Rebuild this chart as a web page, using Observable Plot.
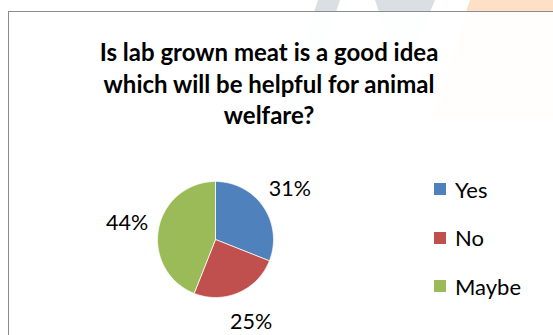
<!DOCTYPE html>
<html><head><meta charset="utf-8">
<script src="https://cdn.jsdelivr.net/npm/d3@7"></script>
<script src="https://cdn.jsdelivr.net/npm/@observablehq/plot@0.6"></script>
<style>
body{margin:0;width:553px;height:335px;overflow:hidden;background:#fff;font-family:Lato,"Open Sans",sans-serif;position:relative}
#wm{position:absolute;left:0;top:0}
#frame{position:absolute;left:8px;top:11px;width:600px;height:400px;border:1.5px solid #8c8c8c;box-sizing:border-box;background:rgba(255,255,255,0.95)}
#title{position:absolute;left:0;top:36px;width:538px;text-align:center;font-weight:bold;font-size:24px;line-height:31.5px;color:#000}
#chart{position:absolute;left:0;top:130px}
#legend{position:absolute;left:434px;top:165px}
.item{display:flex;align-items:center;height:48.5px}
.sw{width:12px;height:12px;margin-right:9px}
.lt{font-size:22px;color:#000}
</style></head>
<body>
<svg id="wm" width="553" height="335">
  <polygon points="318,0 340,0 300,120 278,120" fill="#d9dfe2"/>
  <polygon points="375,0 435,0 410,60 395,60" fill="#d9dfe2"/>
  <polygon points="470,0 553,0 553,120 430,120" fill="#fde0c6"/>
</svg>
<div id="frame"></div>
<div id="title">Is lab grown meat is a good idea<br>which will be helpful for animal<br>welfare?</div>
<div id="chart"></div>
<div id="legend"></div>
<script>
const answers = ["Yes", "No", "Maybe"];
const shares = [31, 25, 44];
const colors = ["#4F81BD", "#C0504D", "#9BBB59"];
const labels = ["31%", "25%", "44%"];

const total = d3.sum(shares);
const slices = [];
const polys = [];
let acc = 0;
answers.forEach((a, i) => {
  const a0 = acc / total * 2 * Math.PI;
  acc += shares[i];
  const a1 = acc / total * 2 * Math.PI;
  const n = Math.max(2, Math.ceil((a1 - a0) / (Math.PI / 180)));
  polys.push({answer: a, x: 0, y: 0});
  for (let k = 0; k <= n; k++) {
    const t = a0 + (a1 - a0) * k / n;
    polys.push({answer: a, x: Math.sin(t), y: Math.cos(t)});
  }
  polys.push({answer: a, x: 0, y: 0});
  const m = (a0 + a1) / 2;
  slices.push({answer: a, label: labels[i], x: 1.55 * Math.sin(m), y: 1.55 * Math.cos(m)});
});

const W = 553, H = 205;
const plot = Plot.plot({
  width: W, height: H,
  marginLeft: 157, marginRight: 280, marginTop: 51, marginBottom: 38,
  x: {domain: [-1, 1], axis: null},
  y: {domain: [-1, 1], axis: null},
  color: {domain: answers, range: colors},
  style: {fontFamily: "Lato, 'Open Sans', sans-serif", overflow: "visible", background: "transparent"},
  marks: [
    Plot.line(polys, {x: "x", y: "y", z: "answer", fill: "answer", stroke: "white", strokeWidth: 0.75, curve: "linear"}),
    Plot.text(slices, {x: "x", y: "y", text: "label", fontSize: 21.5, fill: "#000"})
  ]
});
document.getElementById("chart").appendChild(plot);

const color = plot.scale("color");
const leg = document.getElementById("legend");
answers.forEach((a, i) => {
  const it = document.createElement("div");
  it.className = "item";
  it.innerHTML = `<div class="sw" style="background:${colors[color.domain.indexOf(a)]}"></div><div class="lt">${a}</div>`;
  leg.appendChild(it);
});
</script>
</body></html>
